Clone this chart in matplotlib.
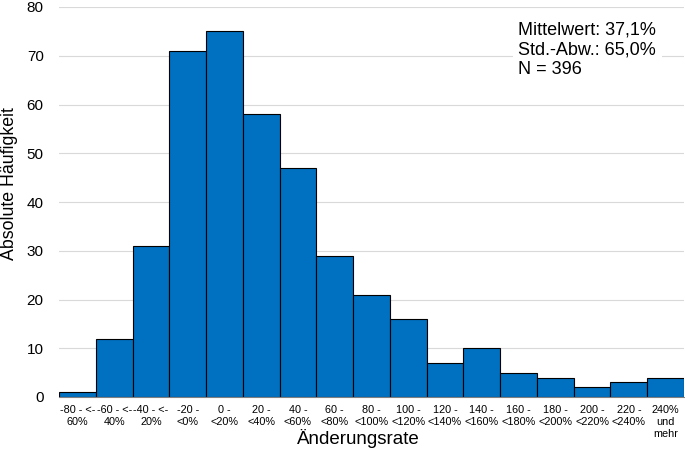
import matplotlib.pyplot as plt

plt.rcParams['font.family'] = ['Liberation Sans', 'DejaVu Sans']

categories = ["-80 - <-\n60%", "-60 - <-\n40%", "-40 - <-\n20%", "-20 -\n<0%",
              "0 -\n<20%", "20 -\n<40%", "40 -\n<60%", "60 -\n<80%",
              "80 -\n<100%", "100 -\n<120%", "120 -\n<140%", "140 -\n<160%",
              "160 -\n<180%", "180 -\n<200%", "200 -\n<220%", "220 -\n<240%",
              "240%\nund\nmehr"]
counts = [1, 12, 31, 71, 75, 58, 47, 29, 21, 16, 7, 10, 5, 4, 2, 3, 4]
yticks = [0, 10, 20, 30, 40, 50, 60, 70, 80]

fig = plt.figure(figsize=(6.85, 4.51), dpi=100)
ax = fig.add_axes([59 / 685, 54 / 451, 625 / 685, 390 / 451])

x = list(range(len(counts)))
ax.bar(x, counts, width=1.0, color="#0070C0", edgecolor="black", linewidth=0.8, zorder=3)

ax.set_xlim(-0.5, len(counts) - 0.5)
ax.set_ylim(0, 80)
ax.set_yticks(yticks)
ax.set_xticks(x)
ax.set_xticklabels(categories, fontsize=7.8, linespacing=1.2)
ax.tick_params(axis="y", labelsize=11, length=0, pad=11)
ax.tick_params(axis="x", length=0, pad=6)
ax.grid(axis="y", color="#d9d9d9", lw=0.8, zorder=0)
for s in ["top", "right", "left"]:
    ax.spines[s].set_visible(False)
ax.spines["bottom"].set_color("#808080")
ax.spines["bottom"].set_zorder(4)

fig.text(10 / 685, 1 - 184 / 451, "Absolute Häufigkeit", fontsize=12.8,
         rotation=90, ha="center", va="center")
fig.text(358 / 685, 1 - 438 / 451, "Änderungsrate", fontsize=13.5,
         ha="center", va="center")

ax.text(0.735, 0.963, "Mittelwert: 37,1%\nStd.-Abw.: 65,0%\nN = 396",
        transform=ax.transAxes, fontsize=13, va="top", ha="left",
        linespacing=1.22, zorder=5,
        bbox=dict(facecolor="white", edgecolor="none", pad=4))

fig.savefig("out.png", dpi=100)
